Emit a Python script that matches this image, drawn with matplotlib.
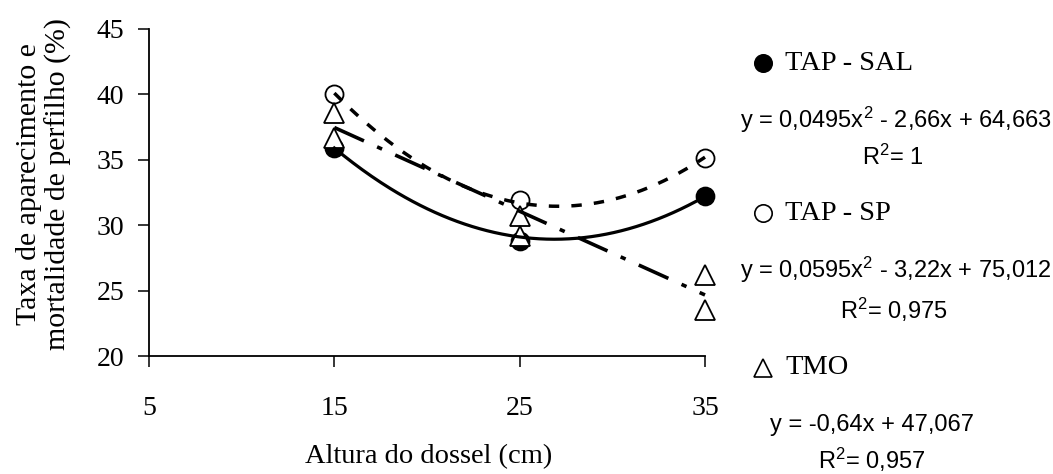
import numpy as np
import matplotlib
matplotlib.use("Agg")
import matplotlib.pyplot as plt

# ---- data ----
x_levels = [15, 25, 35]
tap_sal = [35.9, 28.8, 32.2]
tap_sp = [40.0, 31.9, 35.1]
tmo_x = [15, 15, 25, 25, 35, 35]
tmo_y = [38.6, 36.7, 30.7, 29.2, 26.2, 23.5]

sal_coef = [0.0495, -2.66, 64.663]
sp_coef = [0.0595, -3.22, 75.012]
tmo_coef = [-0.64, 47.067]

x_ticks = [5, 15, 25, 35]
y_ticks = [20, 25, 30, 35, 40, 45]

series_names = ["TAP - SAL", "TAP - SP", "TMO"]
equations = ["y = 0,0495x$^2$ - 2,66x + 64,663",
             "y = 0,0595x$^2$ - 3,22x + 75,012",
             "y = -0,64x + 47,067"]
r2_texts = ["R$^2$= 1", "R$^2$= 0,975", "R$^2$= 0,957"]

plt.rcParams["mathtext.fontset"] = "custom"
plt.rcParams["mathtext.rm"] = "Liberation Sans"
plt.rcParams["mathtext.it"] = "Liberation Sans"
plt.rcParams["mathtext.default"] = "regular"

# ---- figure ----
W, H = 1053, 474
fig = plt.figure(figsize=(W / 100, H / 100), dpi=100)
ax = fig.add_axes([149 / W, 1 - 356 / H, (705 - 149) / W, (356 - 29) / H])

serif = "Liberation Serif"
sans = "Liberation Sans"

# markers
ax.plot(x_levels, tap_sal, linestyle="none", marker="o", ms=13,
        mfc="black", mec="black", mew=1.2, zorder=3, clip_on=False)
ax.plot(x_levels, tap_sp, linestyle="none", marker="o", ms=13,
        mfc="white", mec="black", mew=1.3, zorder=3, clip_on=False)
ax.plot(tmo_x, tmo_y, linestyle="none", marker="^", ms=15,
        mfc="white", mec="black", mew=1.3, zorder=3.5, clip_on=False)

# trend lines
xs = np.linspace(15, 35, 200)
ax.plot(xs, np.polyval(sal_coef, xs), color="black", lw=2.3,
        linestyle="-", zorder=4, clip_on=False)
ax.plot(xs, np.polyval(sp_coef, xs), color="black", lw=2.5,
        linestyle=(0, (3, 3.5)), zorder=4, clip_on=False)
ax.plot(xs, np.polyval(tmo_coef, xs), color="black", lw=2.6,
        linestyle=(0, (9, 4, 1.5, 4)), zorder=4, clip_on=False)

ax.set_xlim(5, 35)
ax.set_ylim(20, 45)
ax.set_xticks(x_ticks)
ax.set_yticks(y_ticks)
for s in ["top", "right"]:
    ax.spines[s].set_visible(False)
for s in ["left", "bottom"]:
    ax.spines[s].set_linewidth(1.3)
ax.tick_params(axis="both", direction="out", length=8, width=1.1,
               labelsize=20)
ax.tick_params(axis="x", pad=21)
ax.tick_params(axis="y", pad=10)
for lab in ax.get_xticklabels() + ax.get_yticklabels():
    lab.set_fontfamily(serif)

# axis labels
def fx(px):
    return px / W

def fy(py):
    return 1 - py / H

fig.text(fx(44), fy(184), "Taxa de aparecimento e\nmortalidade de perfilho (%)",
         rotation=90, ha="center", va="center", multialignment="center",
         fontsize=21.5, fontfamily=serif, linespacing=1.15)
fig.text(fx(429), fy(457), "Altura do dossel (cm)", ha="center", va="center",
         fontsize=20.5, fontfamily=serif)

# legend-like annotations on the right
name_y = [63, 213, 368]
eq_pos = [(896, 120), (896, 270), (872, 425)]
r2_pos = [(893, 157), (894, 310), (872, 460)]
mk = [dict(marker="o", mfc="black", ms=12.5), dict(marker="o", mfc="white", ms=12.5),
      dict(marker="^", mfc="white", ms=13)]
for i in range(3):
    ln = plt.Line2D([fx(763)], [fy(name_y[i])], transform=fig.transFigure,
                    linestyle="none", mec="black", mew=1.2, **mk[i])
    fig.add_artist(ln)
    fig.text(fx(785), fy(name_y[i]), series_names[i], ha="left", va="center",
             fontsize=20.5, fontfamily=serif)
    fig.text(fx(eq_pos[i][0]), fy(eq_pos[i][1]), equations[i], ha="center",
             va="center", fontsize=17, fontfamily=sans)
    fig.text(fx(r2_pos[i][0]), fy(r2_pos[i][1]), r2_texts[i], ha="center",
             va="center", fontsize=17, fontfamily=sans)

fig.savefig("out.png", dpi=100)
